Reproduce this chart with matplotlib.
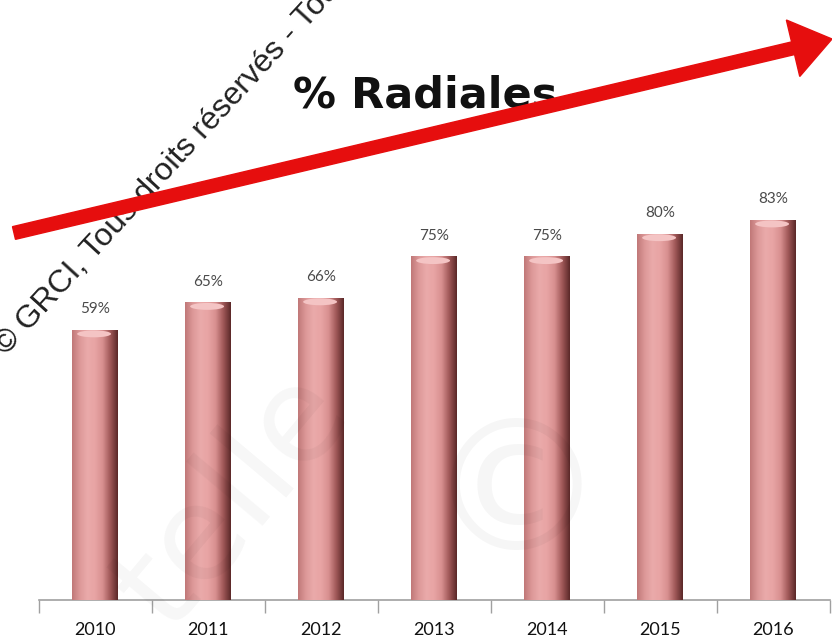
import matplotlib.pyplot as plt
import numpy as np
from matplotlib.colors import LinearSegmentedColormap
from matplotlib.patches import FancyArrow, Ellipse

# données
annees = ['2010', '2011', '2012', '2013', '2014', '2015', '2016']
radiales = [59, 65, 66, 75, 75, 80, 83]
etiquettes = ['59%', '65%', '66%', '75%', '75%', '80%', '83%']

fig = plt.figure(figsize=(8.32, 6.41), dpi=100)
fig.patch.set_facecolor('white')

# filigrane gris très pâle en fond
fig.text(0.28, 0.22, 'telle', fontsize=95, color='#000000', alpha=0.035,
         rotation=50, ha='center', va='center', family='DejaVu Sans')
fig.text(0.62, 0.22, '©', fontsize=130, color='#000000', alpha=0.035,
         ha='center', va='center', family='DejaVu Sans')

ax = fig.add_axes([38.5 / 832, 41 / 641, 791 / 832, 600 / 641])
ax.set_facecolor('none')
x = np.arange(len(annees))
largeur = 0.4
barres = ax.bar(x, radiales, width=largeur, color='none', edgecolor='none', zorder=2)

# dégradé "cylindre" sur chaque barre
cmap = LinearSegmentedColormap.from_list(
    'cyl', ['#c07878', '#dc9898', '#eaaaaa', '#e8a4a4', '#d89090', '#a05858', '#5a2828'])
grad = np.linspace(0, 1, 256).reshape(1, -1)
for b in barres:
    x0, y0 = b.get_x(), b.get_y()
    w, h = b.get_width(), b.get_height()
    im = ax.imshow(grad, cmap=cmap, aspect='auto', extent=(x0, x0 + w, y0, y0 + h),
                   zorder=3, interpolation='bilinear')
    im.set_clip_path(b)
    ax.add_patch(Ellipse((x0 + w * 0.48, y0 + h - 0.9), w * 0.75, 1.5,
                         facecolor='#f4c4c4', edgecolor='none', zorder=4))

for xi, v, lab in zip(x, radiales, etiquettes):
    ax.text(xi, v + 3.0, lab, ha='center', va='bottom', fontsize=11,
            color='#4a4a4a', family='Lato')

ax.set_xlim(-0.5, 6.5)
ax.set_ylim(0, 131)
ax.set_xticks(x)
ax.set_xticklabels(annees, fontsize=13, color='#111111', family='Lato')
ax.set_xticks(np.arange(-0.5, 7, 1), minor=True)
ax.tick_params(axis='x', which='major', length=0, pad=16)
ax.tick_params(axis='x', which='minor', length=9, color='#a0a0a0', width=1)
ax.set_yticks([])
for s in ['top', 'right', 'left']:
    ax.spines[s].set_visible(False)
ax.spines['bottom'].set_color('#a0a0a0')
ax.spines['bottom'].set_linewidth(1.2)

# calque en pixels pour la flèche et les textes
ov = fig.add_axes([0, 0, 1, 1])
ov.set_xlim(0, 832)
ov.set_ylim(641, 0)
ov.axis('off')
ov.patch.set_alpha(0)

ov.text(425, 95, '% Radiales', fontsize=31, fontweight='bold', color='#111111',
        ha='center', va='center', family='DejaVu Sans')

ov.text(6, 356, '© GRCI, Tous droits réservés - Tous droits réservés', fontsize=23,
        color='#222222', rotation=47.5, rotation_mode='anchor', ha='left',
        va='baseline', family='Liberation Sans')

fleche = FancyArrow(14, 233, 818, -194, width=13, head_width=58, head_length=40,
                    length_includes_head=True, color='#e60e0e', zorder=5)
ov.add_patch(fleche)

fig.savefig('out.png', dpi=100)
